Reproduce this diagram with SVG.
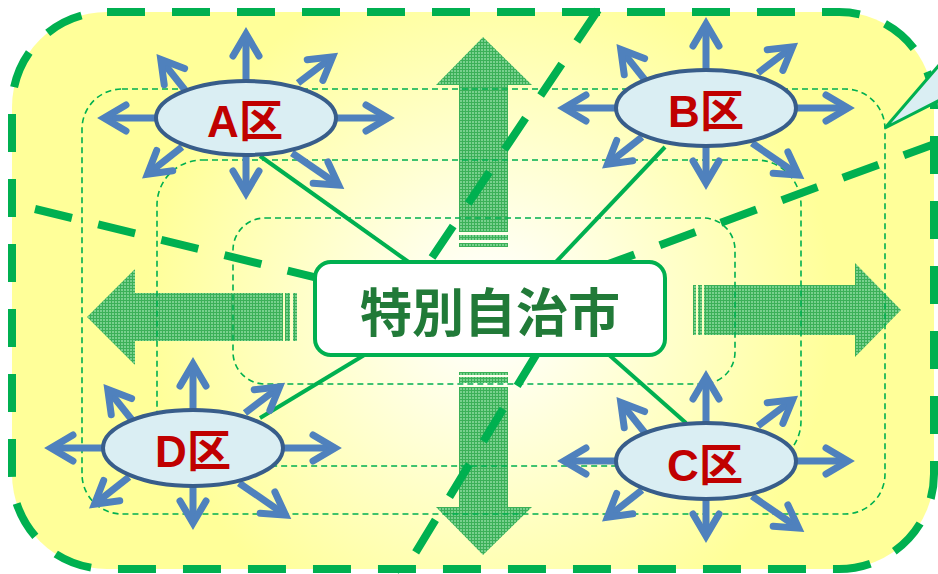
<svg xmlns="http://www.w3.org/2000/svg" xmlns:xlink="http://www.w3.org/1999/xlink" width="938" height="574" viewBox="0 0 938 574">
<style>
.thin{fill:none;stroke:#00B050;stroke-width:1.6;stroke-dasharray:6 4}
.thick{fill:none;stroke:#00B050;stroke-width:8;stroke-dasharray:38 27}
.conn{stroke:#00B050;stroke-width:4;fill:none}
.big{fill:url(#mesh)}
.spoke{fill:none;stroke:#4F81BD;stroke-width:7;marker-end:url(#head)}
.ell{fill:#DAEEF3;stroke:#385D8A;stroke-width:4}
.lbl{font-family:"Liberation Sans","Noto Sans CJK JP",sans-serif;font-weight:bold;font-size:44px;fill:#C00000;text-anchor:middle}
.title{font-family:"Noto Sans CJK JP","Noto Sans CJK SC",sans-serif;font-weight:bold;font-size:52px;fill:#217A38;text-anchor:middle}
</style>
<defs>
<radialGradient id="bg" gradientUnits="userSpaceOnUse" cx="490" cy="310" r="460">
<stop offset="0" stop-color="#FFFFFF"/>
<stop offset="0.12" stop-color="#FFFFF2"/>
<stop offset="0.75" stop-color="#FFFF99"/>
</radialGradient>
<pattern id="mesh" width="3" height="3" patternUnits="userSpaceOnUse">
<rect width="3" height="3" fill="#78D08E"/>
<rect width="3" height="1" fill="#3BB058"/>
<rect width="1" height="3" fill="#3BB058"/>
</pattern>
<marker id="head" markerUnits="userSpaceOnUse" orient="auto" refX="-2" refY="0" markerWidth="40" markerHeight="40" overflow="visible">
<path d="M-22,-13 L0,0 L-22,13" fill="none" stroke="#4F81BD" stroke-width="7" stroke-linejoin="miter" stroke-linecap="round"/>
</marker>
<g id="spokes">
<path class="spoke" d="M0,-30V-82"/>
<path class="spoke" d="M0,30V73"/>
<path class="spoke" d="M-80,0H-140"/>
<path class="spoke" d="M80,0H140"/>
<path class="spoke" d="M-61,-28L-84,-57"/>
<path class="spoke" d="M52,-35L85,-60"/>
<path class="spoke" d="M-64,29L-97,55"/>
<path class="spoke" d="M46,35L91,66"/>
</g>
</defs>

<g id="background">
<rect x="12" y="12" width="922" height="557" rx="95" ry="95" fill="url(#bg)"/>
</g>

<g id="big-arrows">
<polygon class="big" points="483,37 532,85 508,85 508,232 459,232 459,85 436,85"/>
<rect class="big" x="459" y="235" width="49" height="5"/>
<rect class="big" x="459" y="243" width="49" height="4"/>
<rect class="big" x="459" y="372" width="49" height="3"/>
<rect class="big" x="459" y="377" width="49" height="6"/>
<polygon class="big" points="459,387 508,387 508,507 532,507 483,555 436,507 459,507"/>
<polygon class="big" points="87,317 135,269 135,293 283,293 283,341 135,341 135,365"/>
<rect class="big" x="285" y="293" width="5" height="48"/>
<rect class="big" x="293" y="293" width="4" height="48"/>
<rect class="big" x="693" y="285" width="3" height="50"/>
<rect class="big" x="698" y="285" width="4" height="50"/>
<polygon class="big" points="704,285 855,285 855,263 901,310 855,357 855,335 704,335"/>
</g>

<g id="zones">
<rect class="thin" x="82" y="89" width="803" height="425" rx="40" ry="40"/>
<rect class="thin" x="157" y="160" width="644" height="306" rx="45" ry="45"/>
<rect class="thin" x="233" y="218" width="502" height="166" rx="32" ry="32"/>
</g>

<g id="boundaries">
<rect class="thick" x="12" y="12" width="922" height="557" rx="95" ry="95"/>
<polyline class="thick" points="35,209 470,315 940,142"/>
<polyline class="thick" points="598,10 425,268 539,350 400,578"/>
</g>

<g id="callout">
<polygon points="885,128 940,64 940,100" fill="#DAEEF3" stroke="#00B050" stroke-width="3" stroke-linejoin="miter"/>
</g>

<g id="connectors">
<line class="conn" x1="260" y1="156" x2="410" y2="263"/>
<line class="conn" x1="665" y1="147" x2="555" y2="263"/>
<line class="conn" x1="260" y1="418" x2="366" y2="354"/>
<line class="conn" x1="608" y1="354" x2="686" y2="423"/>
</g>

<g id="center">
<rect x="315" y="262" width="350" height="93" rx="16" ry="16" fill="#FFFFFF" stroke="#00B050" stroke-width="4"/>
<text class="title" x="490" y="332">特別自治市</text>
</g>

<g id="districtA">
<use xlink:href="#spokes" x="246" y="118"/>
<ellipse class="ell" cx="246" cy="118" rx="90" ry="37"/>
<text class="lbl" x="245" y="137">A区</text>
</g>

<g id="districtB">
<use xlink:href="#spokes" x="706" y="108"/>
<ellipse class="ell" cx="706" cy="108" rx="90" ry="38"/>
<text class="lbl" x="706" y="127">B区</text>
</g>

<g id="districtD">
<use xlink:href="#spokes" x="193" y="448"/>
<ellipse class="ell" cx="193" cy="448" rx="90" ry="38"/>
<text class="lbl" x="193" y="467">D区</text>
</g>

<g id="districtC">
<use xlink:href="#spokes" x="706" y="461"/>
<ellipse class="ell" cx="706" cy="461" rx="90" ry="38"/>
<text class="lbl" x="705" y="481">C区</text>
</g>
</svg>
